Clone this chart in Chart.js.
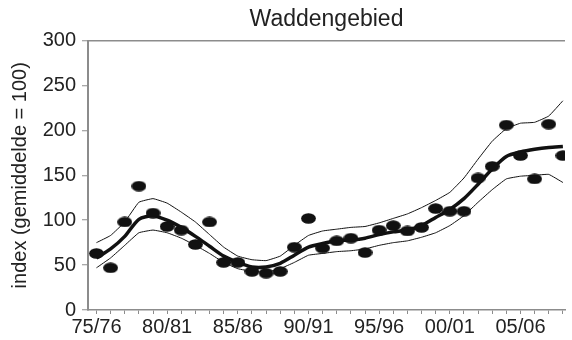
<!DOCTYPE html>
<html lang="nl">
<head>
    <meta charset="UTF-8">
    <title>Waddengebied</title>
    <script src="https://cdn.jsdelivr.net/npm/chart.js"></script>
    <style>
        body { margin: 0; background: #fff; }
        #wrap { width: 572px; height: 340px; }
    </style>
</head>
<body>
    <div id="wrap">
        <canvas id="indexChart" width="572" height="340"></canvas>
    </div>

    <script>
        // seizoenen 75/76 t/m 08/09
        const seasons = ['75/76', '76/77', '77/78', '78/79', '79/80', '80/81', '81/82', '82/83', '83/84', '84/85',
            '85/86', '86/87', '87/88', '88/89', '89/90', '90/91', '91/92', '92/93', '93/94', '94/95',
            '95/96', '96/97', '97/98', '98/99', '99/00', '00/01', '01/02', '02/03', '03/04', '04/05',
            '05/06', '06/07', '07/08', '08/09'];

        // telling per seizoen (index)
        const observed = [63, 47, 98, 138, 108, 93, 89, 73, 98, 53,
            53, 43, 41, 43, 70, 102, 69, 77, 80, 64,
            89, 94, 88, 92, 113, 110, 110, 147, 160, 206,
            172, 146, 207, 172];

        // trend en betrouwbaarheidsband
        const trend = [58, 68, 82, 101, 105, 100, 92, 82, 71, 60,
            53, 48, 48, 52, 61, 70, 74, 77, 78, 80,
            84, 87, 89, 94, 103, 112, 124, 140, 157, 171,
            176, 179, 181, 182];
        const upper = [75, 83, 98, 120, 124, 119, 109, 98, 84, 70,
            60, 56, 55, 60, 72, 83, 88, 90, 92, 93,
            97, 102, 107, 114, 122, 131, 147, 168, 188, 202,
            208, 209, 216, 233];
        const lower = [47, 58, 72, 86, 89, 86, 80, 72, 63, 53,
            46, 43, 42, 46, 53, 61, 63, 65, 66, 68,
            72, 75, 77, 81, 86, 94, 105, 120, 134, 146,
            149, 150, 151, 142];

        const yTicks = [0, 50, 100, 150, 200, 250, 300];

        const axisGrey = '#8c8c8c';
        const textColor = '#222';

        function toPoints(values) {
            return values.map((v, i) => ({ x: i, y: v }));
        }

        // zwarte ellips als punt
        const dot = document.createElement('canvas');
        dot.width = 15;
        dot.height = 11;
        const dctx = dot.getContext('2d');
        dctx.fillStyle = '#111';
        dctx.beginPath();
        dctx.ellipse(7.5, 5.5, 7.4, 5.3, 0, 0, Math.PI * 2);
        dctx.fill();

        const ctx = document.getElementById('indexChart').getContext('2d');

        new Chart(ctx, {
            type: 'line',
            data: {
                datasets: [
                    {
                        data: toPoints(observed),
                        showLine: false,
                        pointStyle: dot,
                        pointRadius: 6,
                        pointHoverRadius: 6
                    },
                    {
                        data: toPoints(trend),
                        borderColor: '#111',
                        borderWidth: 3.5,
                        tension: 0.25,
                        pointRadius: 0
                    },
                    {
                        data: toPoints(upper),
                        borderColor: '#111',
                        borderWidth: 1,
                        tension: 0.1,
                        pointRadius: 0
                    },
                    {
                        data: toPoints(lower),
                        borderColor: '#111',
                        borderWidth: 1,
                        tension: 0.1,
                        pointRadius: 0
                    }
                ]
            },
            options: {
                responsive: false,
                animation: false,
                layout: { padding: { left: 0, right: 2, top: 0, bottom: 0 } },
                plugins: {
                    legend: { display: false },
                    tooltip: { enabled: false },
                    title: {
                        display: true,
                        text: 'Waddengebied',
                        fullSize: false,
                        color: textColor,
                        font: { family: 'Liberation Sans, Arial', size: 23, weight: 'normal' },
                        padding: { top: 6, bottom: 7 }
                    }
                },
                scales: {
                    x: {
                        type: 'linear',
                        min: -0.6,
                        max: 33.15,
                        afterBuildTicks: (axis) => {
                            axis.ticks = seasons.map((s, i) => ({ value: i }));
                        },
                        ticks: {
                            autoSkip: false,
                            maxRotation: 0,
                            padding: 1,
                            color: textColor,
                            font: { family: 'Liberation Sans, Arial', size: 20 },
                            callback: (value) => value % 5 === 0 ? seasons[value] : ''
                        },
                        grid: {
                            drawOnChartArea: false,
                            tickLength: 4,
                            tickColor: axisGrey,
                            tickWidth: 1
                        },
                        border: { color: axisGrey, width: 1.5 }
                    },
                    y: {
                        min: 0,
                        max: 300,
                        afterBuildTicks: (axis) => {
                            axis.ticks = yTicks.map(v => ({ value: v }));
                        },
                        afterFit: (axis) => {
                            axis.width = 88;
                        },
                        title: {
                            display: true,
                            text: 'index (gemiddelde = 100)',
                            color: textColor,
                            font: { family: 'Liberation Sans, Arial', size: 20 },
                            padding: { top: 8, bottom: 0 }
                        },
                        ticks: {
                            padding: 6,
                            color: textColor,
                            font: { family: 'Liberation Sans, Arial', size: 20 }
                        },
                        grid: {
                            drawOnChartArea: true,
                            color: (c) => c.tick && c.tick.value === 300 ? axisGrey : 'rgba(0,0,0,0)',
                            lineWidth: 1.5,
                            tickLength: 6,
                            tickColor: axisGrey,
                            tickWidth: 1
                        },
                        border: { color: axisGrey, width: 2 }
                    }
                }
            }
        });
    </script>
</body>
</html>
